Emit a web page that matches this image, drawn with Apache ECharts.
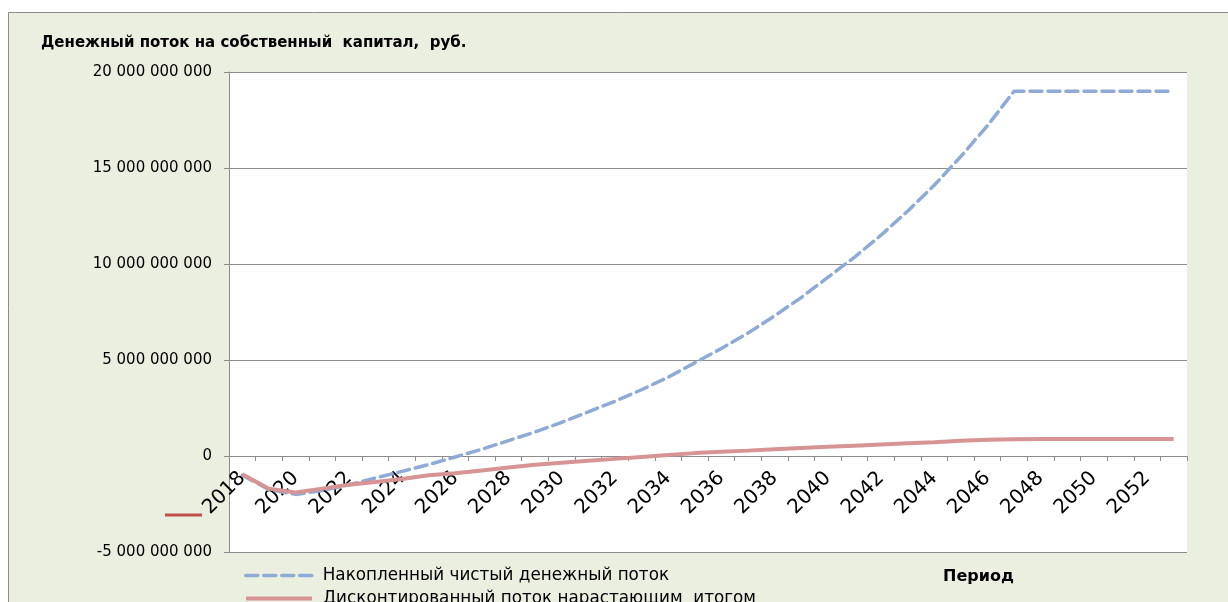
<!DOCTYPE html>
<html>
<head>
<meta charset="utf-8">
<script src="https://cdn.jsdelivr.net/npm/echarts@6/dist/echarts.min.js"></script>
<style>
  html, body { margin: 0; padding: 0; background: #fff; }
  #chart { width: 1228px; height: 602px; }
</style>
</head>
<body>
<div id="chart"></div>
<script>
// периоды (годы)
var years = ["2018", "2019", "2020", "2021", "2022", "2023", "2024", "2025", "2026",
  "2027", "2028", "2029", "2030", "2031", "2032", "2033", "2034", "2035", "2036",
  "2037", "2038", "2039", "2040", "2041", "2042", "2043", "2044", "2045", "2046",
  "2047", "2048", "2049", "2050", "2051", "2052", "2053"];

// Накопленный чистый денежный поток, руб.
var cumulativeFlow = [
  -1.0e9, -1.75e9, -2.0e9, -1.8e9, -1.5e9, -1.15e9, -0.8e9, -0.45e9, -0.05e9,
  0.35e9, 0.8e9, 1.25e9, 1.75e9, 2.3e9, 2.85e9, 3.45e9, 4.1e9, 4.85e9, 5.6e9,
  6.4e9, 7.3e9, 8.25e9, 9.3e9, 10.35e9, 11.5e9, 12.75e9, 14.1e9, 15.6e9, 17.2e9,
  19.0e9, 19.0e9, 19.0e9, 19.0e9, 19.0e9, 19.0e9, 19.0e9
];

// Дисконтированный поток нарастающим итогом, руб.
var discountedFlow = [
  -0.95e9, -1.7e9, -1.9e9, -1.7e9, -1.5e9, -1.35e9, -1.2e9, -1.0e9, -0.9e9,
  -0.75e9, -0.6e9, -0.45e9, -0.35e9, -0.25e9, -0.15e9, -0.05e9, 0.05e9, 0.15e9, 0.22e9,
  0.28e9, 0.35e9, 0.42e9, 0.48e9, 0.54e9, 0.6e9, 0.66e9, 0.72e9, 0.79e9, 0.85e9,
  0.87e9, 0.88e9, 0.88e9, 0.88e9, 0.88e9, 0.88e9, 0.88e9
];

var seriesNames = ["Накопленный чистый денежный поток", "Дисконтированный поток нарастающим  итогом"];

var yTicks = { min: -5e9, max: 20e9, step: 5e9 };

var blue = "#8eaad6";
var red = "#d79495";

function fmt(v) {
  return String(v).replace(/\B(?=(\d{3})+(?!\d))/g, " ");
}

var legendBase = {
  orient: "horizontal",
  left: 244,
  padding: 0,
  itemWidth: 66,
  itemHeight: 14,
  itemStyle: { color: "rgba(0,0,0,0)", borderWidth: 0 },
  textStyle: { fontFamily: "DejaVu Sans", fontSize: 16.8, color: "#000", padding: [0, 0, 0, 6] }
};

var chart = echarts.init(document.getElementById("chart"));
chart.setOption({
  backgroundColor: "#fff",
  animation: false,
  graphic: [
    {
      type: "rect",
      z: -10,
      shape: { x: 8.5, y: 12.5, width: 1240, height: 620 },
      style: { fill: "#ebefdf", stroke: "#8c8c8c", lineWidth: 1 }
    },
    {
      type: "line",
      z: 10,
      shape: { x1: 165, y1: 515, x2: 202, y2: 515 },
      style: { stroke: "#c0504d", lineWidth: 3 }
    }
  ],
  title: [
    {
      text: "Денежный поток на собственный  капитал,  руб.",
      left: 36,
      top: 31,
      textStyle: { fontFamily: "DejaVu Sans", fontSize: 15, fontWeight: "bold", color: "#000" }
    },
    {
      text: "Период",
      left: 938,
      top: 564,
      textStyle: { fontFamily: "DejaVu Sans", fontSize: 16, fontWeight: "bold", color: "#000" }
    }
  ],
  legend: [
    Object.assign({}, legendBase, {
      top: 567,
      data: [{ name: seriesNames[0], lineStyle: { color: blue, width: 3.5, type: [12, 6] } }]
    }),
    Object.assign({}, legendBase, {
      top: 590,
      data: [{ name: seriesNames[1], lineStyle: { color: red, width: 4, type: "solid" } }]
    })
  ],
  grid: {
    left: 229,
    top: 72,
    right: 41,
    bottom: 50,
    show: true,
    backgroundColor: "#fff",
    borderWidth: 0
  },
  xAxis: {
    type: "category",
    data: years,
    boundaryGap: true,
    axisLine: { onZero: true, lineStyle: { color: "#8c8c8c", width: 1 } },
    axisTick: { show: true, interval: 0, length: 5, lineStyle: { color: "#8c8c8c" } },
    axisLabel: {
      interval: 1,
      rotate: 45,
      margin: -77,
      fontFamily: "DejaVu Sans",
      fontSize: 20,
      color: "#000"
    },
    splitLine: { show: false }
  },
  yAxis: {
    type: "value",
    min: yTicks.min,
    max: yTicks.max,
    interval: yTicks.step,
    axisLine: { show: true, lineStyle: { color: "#8c8c8c", width: 1 } },
    axisTick: { show: true, length: 5, lineStyle: { color: "#8c8c8c" } },
    axisLabel: {
      margin: 17,
      fontFamily: "DejaVu Sans",
      fontSize: 15,
      color: "#000",
      formatter: fmt
    },
    splitLine: { show: true, lineStyle: { color: "#8c8c8c", width: 1 } }
  },
  series: [
    {
      name: seriesNames[0],
      type: "line",
      data: cumulativeFlow,
      symbol: "none",
      smooth: false,
      z: 2,
      lineStyle: { color: blue, width: 3.5, type: [12, 6], cap: "round" },
      itemStyle: { color: blue }
    },
    {
      name: seriesNames[1],
      type: "line",
      data: discountedFlow,
      symbol: "none",
      smooth: false,
      z: 3,
      lineStyle: { color: red, width: 4 },
      itemStyle: { color: red }
    }
  ]
});
</script>
</body>
</html>
